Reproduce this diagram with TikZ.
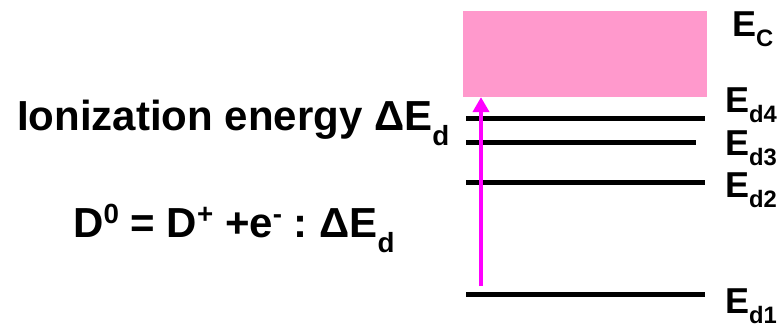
\documentclass[tikz,border=0pt]{standalone}
\usepackage{fontspec}
\setmainfont{Liberation Sans}
\usetikzlibrary{arrows.meta}
\definecolor{cbpink}{RGB}{255,153,204}
\definecolor{arrmag}{RGB}{255,0,255}
\newcommand{\lowtx}[1]{\raisebox{-0.3em}{\scalebox{0.66}{#1}}}
\newcommand{\lowertx}[1]{\raisebox{-0.36em}{\scalebox{0.66}{#1}}}
\newcommand{\hightx}[1]{\raisebox{0.32em}{\scalebox{0.66}{#1}}}

\begin{document}
\begin{tikzpicture}[x=1pt, y=-1pt,
    level/.style={line width=5pt},
    elabel/.style={anchor=base west, inner sep=0pt, font=\fontsize{36}{40}\selectfont\bfseries},
    bigtext/.style={anchor=base west, inner sep=0pt, font=\fontsize{42}{48}\selectfont\bfseries}]
            \useasboundingbox (0,0) rectangle (780,330);
            % conduction band
            \node[fill=cbpink, minimum width=244pt, minimum height=86pt, inner sep=0pt, anchor=north west] (cband) at (463,10.7) {};
            \node[elabel] (ec) at (732,36) {E\lowtx{C}};
            % donor levels
            \coordinate (d4a) at (466,118); \coordinate (d4b) at (705,118);
            \coordinate (d3a) at (466,142); \coordinate (d3b) at (696,142);
            \coordinate (d2a) at (466,182); \coordinate (d2b) at (705,182);
            \coordinate (d1a) at (466,294); \coordinate (d1b) at (705,294);
            \draw[level] (d4a) -- (d4b);
            \draw[level] (d3a) -- (d3b);
            \draw[level] (d2a) -- (d2b);
            \draw[level] (d1a) -- (d1b);
            \node[elabel] (ed4) at (725,112) {E\lowtx{d4}};
            \node[elabel] (ed3) at (725,155) {E\lowtx{d3}};
            \node[elabel] (ed2) at (725,197) {E\lowtx{d2}};
            \node[elabel] (ed1) at (725,313) {E\lowtx{d1}};
            % ionization arrow
            \coordinate (ion) at (481,286);
            \draw[arrmag, line width=4.5pt, -{Triangle[length=15pt,width=16pt]}] (ion) -- (ion |- cband.south);
            \node[bigtext] (ionlabel) at (17,130) {Ionization energy ΔE\lowertx{d}};
            \node[bigtext] (react) at (73,237) {D\hightx{0} = D\hightx{+} +e\hightx{-} :\hspace{-4pt} ΔE\lowertx{d}};
        \end{tikzpicture}
\end{document}
